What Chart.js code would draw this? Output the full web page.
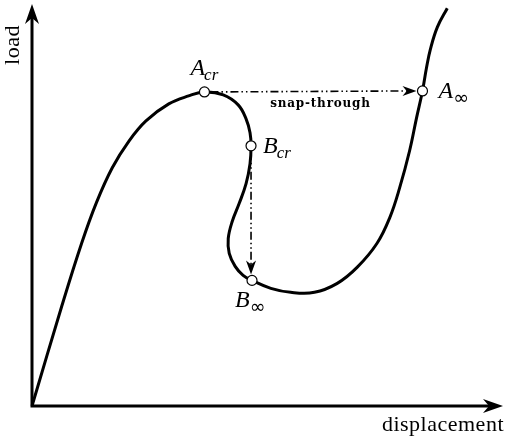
<!DOCTYPE html>
<html>
<head>
<meta charset="utf-8">
<script src="https://cdn.jsdelivr.net/npm/chart.js@4"></script>
<style>
  html, body { margin: 0; padding: 0; background: #fff; }
  canvas { display: block; }
</style>
</head>
<body>
<canvas id="c" width="505" height="437"></canvas>
<script>
// Load–displacement path of a snapping structure (arbitrary units)
const displacement = [0, 30, 50, 65, 81, 98, 115, 138, 158, 174, 193, 208, 216, 220, 221, 220, 216, 209, 202, 198, 199, 205, 213, 222, 241, 261, 285, 308, 328, 348, 361, 371, 381, 388, 394, 398, 402, 409, 419];
const load         = [0, 100, 163, 204, 239, 266, 286, 303, 311, 315, 312, 302, 288, 274, 261, 243, 223, 203, 185, 168, 153, 140, 131, 126, 118, 114, 114, 123, 139, 163, 189, 219, 256, 289, 316, 339, 358, 380, 399];

// Critical and post-snap states
const stateNames = ['A_cr', 'B_cr', 'A_inf', 'B_inf'];
const stateDisp  = [174, 221, 394, 222];
const stateLoad  = [315, 261, 316, 126];

const curvePts = displacement.map((x, i) => ({ x, y: load[i] }));
const statePts = stateDisp.map((x, i) => ({ x, y: stateLoad[i] }));

const SERIF = '"Liberation Serif", "DejaVu Serif", serif';

function arrowHead(ctx, x, y, dir, len, half) {
  // dir: angle in radians the arrow points to
  ctx.save();
  ctx.translate(x, y);
  ctx.rotate(dir);
  ctx.beginPath();
  ctx.moveTo(0, 0);
  ctx.lineTo(-len, -half);
  ctx.lineTo(-len * 0.7, 0);
  ctx.lineTo(-len, half);
  ctx.closePath();
  ctx.fill();
  ctx.restore();
}

function subLabel(ctx, main, sub, x, y) {
  ctx.font = 'italic 24px ' + SERIF;
  ctx.textBaseline = 'alphabetic';
  ctx.textAlign = 'left';
  ctx.fillText(main, x, y);
  const w = ctx.measureText(main).width;
  if (sub === '\u221E') {
    ctx.font = '19px "DejaVu Sans", sans-serif';
    ctx.fillText(sub, x + w, y + 6);
  } else {
    ctx.font = 'italic 17px ' + SERIF;
    ctx.fillText(sub, x + w - 1, y + 5);
  }
}

const decorations = {
  id: 'decorations',
  beforeDatasetsDraw(chart) {
    const ctx = chart.ctx;
    const xs = chart.scales.x, ys = chart.scales.y;
    const px = v => xs.getPixelForValue(v);
    const py = v => ys.getPixelForValue(v);
    const ox = px(0), oy = py(0);
    ctx.save();
    ctx.strokeStyle = '#000';
    ctx.fillStyle = '#000';

    // axes with arrow heads
    ctx.lineWidth = 3;
    ctx.lineCap = 'butt';
    ctx.beginPath();
    ctx.moveTo(ox, oy + 1.5);
    ctx.lineTo(ox, 18);
    ctx.moveTo(ox - 1.5, oy);
    ctx.lineTo(chart.width - 14, oy);
    ctx.stroke();
    arrowHead(ctx, ox, 4, -Math.PI / 2, 20, 7);
    arrowHead(ctx, chart.width - 2, oy, 0, 20, 7);

    // axis titles
    ctx.font = '22px ' + SERIF;
    ctx.letterSpacing = '0.5px';
    ctx.textAlign = 'right';
    ctx.textBaseline = 'alphabetic';
    ctx.fillText('displacement', chart.width - 1, oy + 25);
    ctx.save();
    ctx.translate(ox - 13, 25);
    ctx.rotate(-Math.PI / 2);
    ctx.textAlign = 'right';
    ctx.fillText('load', 0, 0);
    ctx.restore();
    ctx.letterSpacing = '0px';

    // snap-through paths (dash-dot-dot)
    const aCr = { x: px(stateDisp[0]), y: py(stateLoad[0]) };
    const bCr = { x: px(stateDisp[1]), y: py(stateLoad[1]) };
    const aIn = { x: px(stateDisp[2]), y: py(stateLoad[2]) };
    const bIn = { x: px(stateDisp[3]), y: py(stateLoad[3]) };
    ctx.lineWidth = 1.6;
    ctx.setLineDash([8, 3, 1.5, 3, 1.5, 3]);
    ctx.beginPath();
    ctx.moveTo(aCr.x + 6, aCr.y);
    ctx.lineTo(aIn.x - 14, aIn.y);
    ctx.moveTo(bCr.x, bCr.y + 6);
    ctx.lineTo(bCr.x, bIn.y - 14);
    ctx.stroke();
    ctx.setLineDash([]);
    arrowHead(ctx, aIn.x - 6, aIn.y, 0, 14, 5);
    arrowHead(ctx, bIn.x - 1, bIn.y - 6, Math.PI / 2, 14, 5);

    ctx.font = 'bold 12px "DejaVu Serif", serif';
    ctx.textAlign = 'center';
    ctx.textBaseline = 'alphabetic';
    ctx.letterSpacing = '0.8px';
    ctx.fillText('snap-through', (aCr.x + aIn.x) / 2 + 7, aCr.y + 15);
    ctx.letterSpacing = '0px';

    // state labels
    subLabel(ctx, 'A', 'cr', aCr.x - 14, aCr.y - 17);
    subLabel(ctx, 'B', 'cr', bCr.x + 12, bCr.y + 7);
    subLabel(ctx, 'A', '\u221E', aIn.x + 16, aIn.y + 7);
    subLabel(ctx, 'B', '\u221E', bIn.x - 17, bIn.y + 27);
    ctx.restore();
  }
};

new Chart(document.getElementById('c'), {
  type: 'scatter',
  data: {
    datasets: [
      {
        data: statePts,
        pointRadius: 5,
        pointBackgroundColor: '#fff',
        pointBorderColor: '#000',
        pointBorderWidth: 1.2,
        showLine: false,
        order: 0
      },
      {
        data: curvePts,
        showLine: true,
        borderColor: '#000',
        borderWidth: 3,
        tension: 0.4,
        pointRadius: 0,
        fill: false,
        order: 1
      }
    ]
  },
  options: {
    responsive: false,
    devicePixelRatio: 1,
    animation: false,
    layout: { padding: { left: 32, top: 5, right: 2, bottom: 31 } },
    scales: {
      x: { type: 'linear', min: 0, max: 471, display: false },
      y: { type: 'linear', min: 0, max: 401, display: false }
    },
    plugins: {
      legend: { display: false },
      tooltip: { enabled: false }
    },
    clip: false
  },
  plugins: [decorations]
});
</script>
</body>
</html>
